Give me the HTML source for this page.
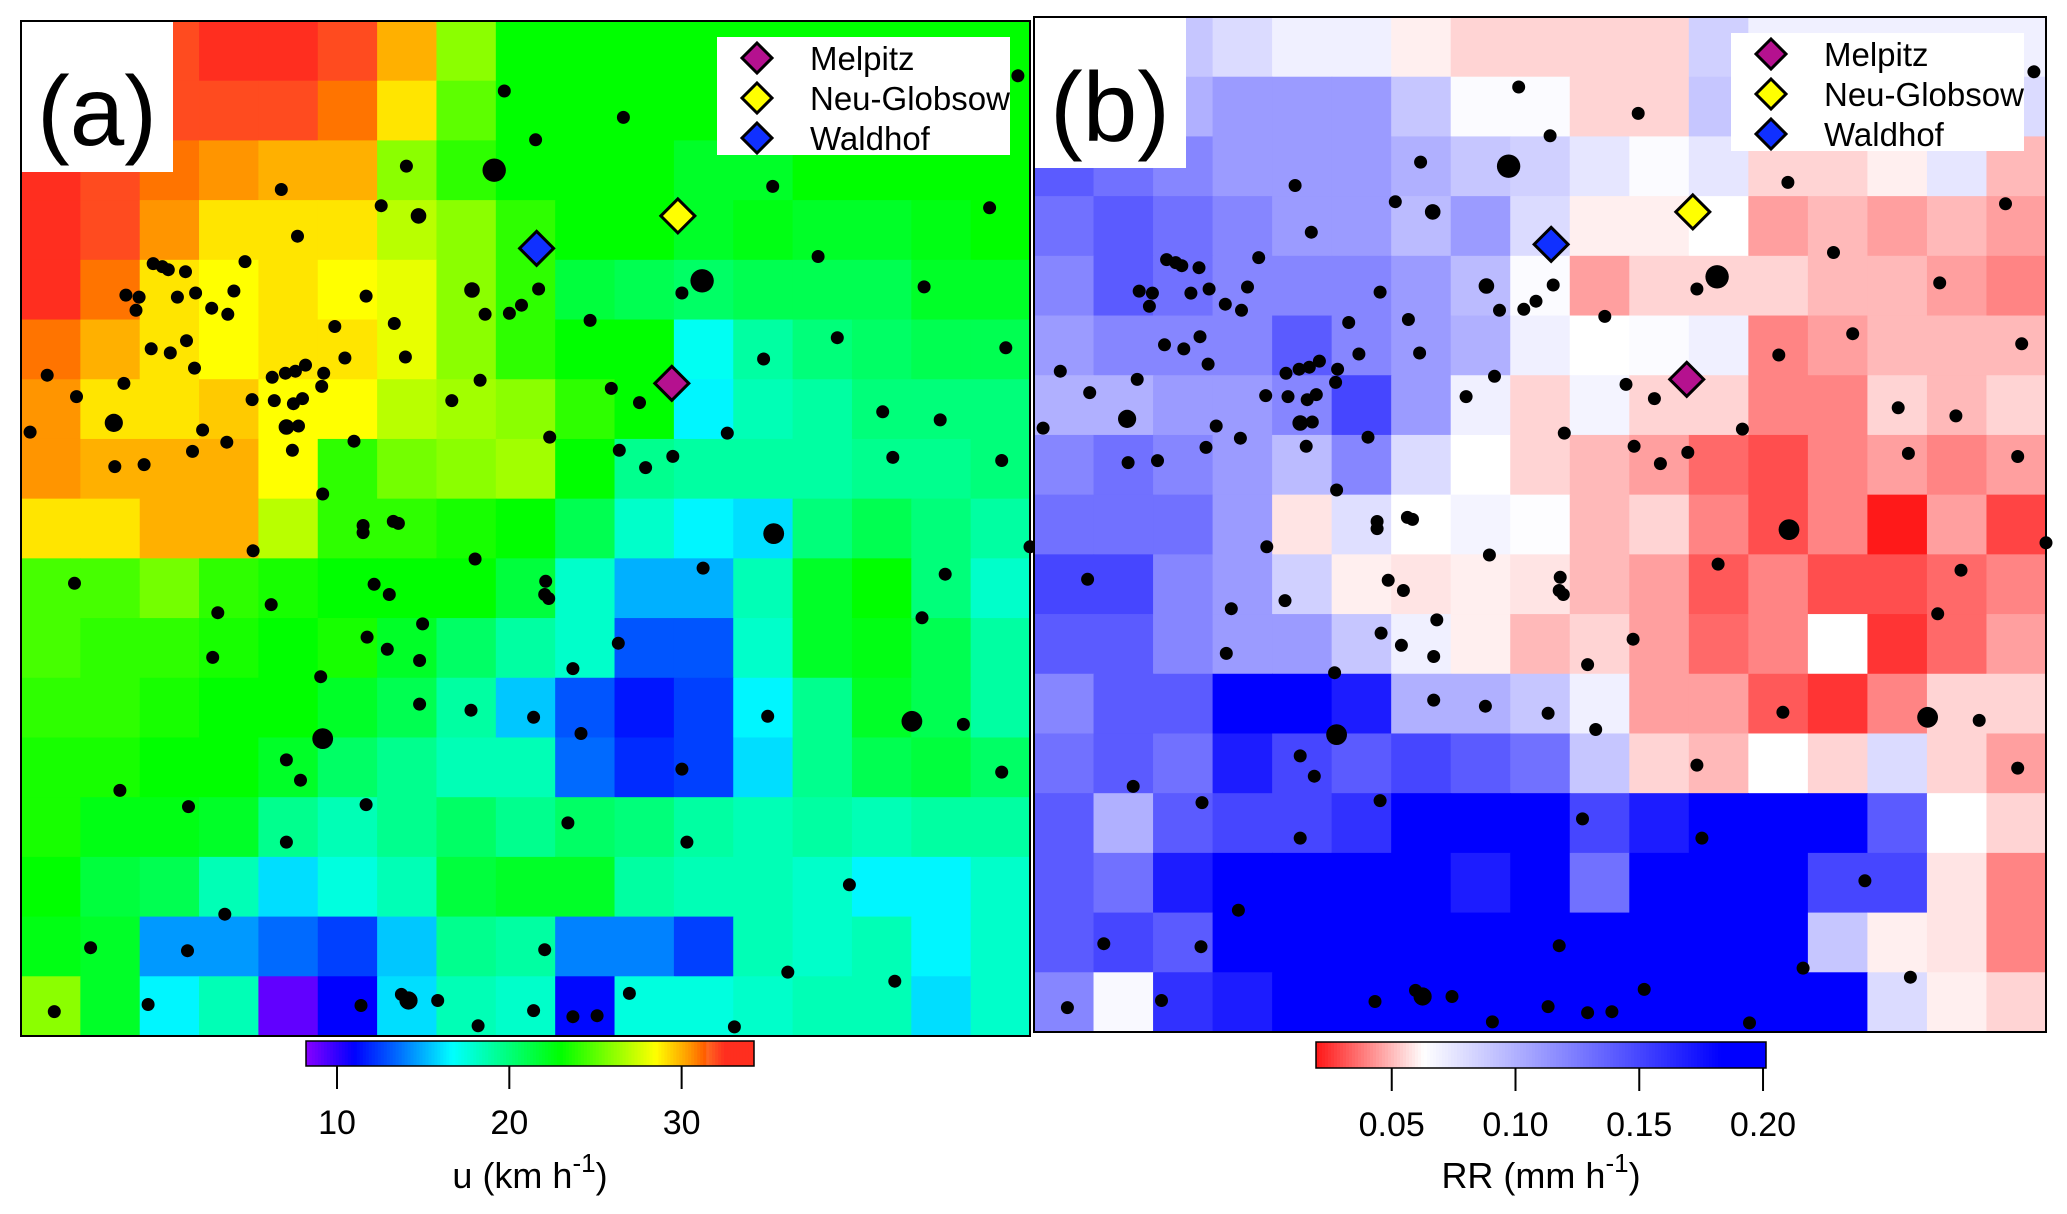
<!DOCTYPE html>
<html><head><meta charset="utf-8">
<style>
html,body{margin:0;padding:0;background:#fff;}
svg{display:block;font-family:"Liberation Sans","DejaVu Sans",sans-serif;}
</style></head>
<body>
<svg id="fig" width="2067" height="1214" viewBox="0 0 2067 1214" xmlns="http://www.w3.org/2000/svg">
<g id="pa"></g>
<g id="pb"></g>
</svg>
<script>
// Panel (a): wind speed u (km/h), 17x17 grid, rows top->bottom
const uRows = [
[32,32,32,33,33,32,30,26,23,23,23,23,23,23,23,23,23],
[32,32,32,32,32,31,29,25,23,23,23,23,23,23,23,23,23],
[33,32,31,30.5,30,30,26,24,23,23,23,22,22,23,23,23,23],
[32.5,32,30.5,29,29,29,27,26,24,23,23,22,22.5,22,22,22.5,23],
[32.5,31,29,28.5,29,28.5,28,26,24,21.5,21,20.5,21,21,21,22,22],
[31,30,29,28.5,29,29,28,26,24,23,23,17,19,20,20.5,21,21],
[30.5,29,29,29.5,28.5,28.5,27,26.5,26,24,23,16.5,18.5,19,20,20,20],
[30.5,30,30,30,28.5,24,25.5,26,26.5,23,19.5,19,19,19,19.5,19.5,20],
[29,29,30,30,27,24,24,23.5,23,21,18,16.5,16,20,21,20,19],
[24.5,24.5,25.5,24,23.5,23,23,23,21.5,18,15,15,18.5,22,23,20,18],
[24.5,24,24,23.5,23,23.5,22,20.5,19,18,13,13,18,22,22.5,21,19],
[24,24,23.5,23,23,22,21,19,15.5,13,11.5,12.5,16.5,19.5,22,21,19],
[23.5,23.5,23,23,22,20.5,19.5,18.5,18.5,13.5,12,12.5,16,19.5,21,21.5,20.5],
[23.5,22.5,22.5,22,19.5,18.5,19.5,20.5,19.5,20.5,20,19,18.5,19,18.5,19,19],
[23,21.5,21,18.5,16,17.5,18.5,21.5,22,22,19,18.5,18.5,18,16.5,16.5,18],
[22.5,22,14.5,14.5,13.5,12.5,15.5,19.5,19,14,14,12.5,18.5,18,18.5,16.5,18],
[26,22,16.5,18.5,9,11,16,18.5,18,11.2,17.5,17.5,18,18.5,18.5,16,18]
];
// Panel (b): rain rate RR (mm/h)
const rrRows = [
[0.10,0.10,0.09,0.08,0.07,0.07,0.06,0.055,0.055,0.055,0.055,0.085,0.07,0.07,0.07,0.07,0.07],
[0.12,0.11,0.10,0.11,0.11,0.11,0.09,0.065,0.065,0.055,0.055,0.09,0.075,0.07,0.07,0.075,0.08],
[0.14,0.13,0.12,0.11,0.11,0.11,0.10,0.09,0.085,0.075,0.065,0.075,0.055,0.055,0.06,0.075,0.05],
[0.13,0.14,0.13,0.12,0.11,0.11,0.095,0.11,0.08,0.06,0.06,0.063,0.045,0.05,0.045,0.05,0.045],
[0.12,0.14,0.13,0.12,0.12,0.12,0.11,0.095,0.065,0.045,0.055,0.055,0.055,0.05,0.05,0.045,0.04],
[0.11,0.12,0.12,0.12,0.14,0.12,0.11,0.10,0.07,0.063,0.065,0.07,0.04,0.045,0.05,0.05,0.05],
[0.10,0.10,0.11,0.11,0.12,0.15,0.11,0.07,0.055,0.068,0.055,0.055,0.04,0.04,0.055,0.05,0.055],
[0.12,0.13,0.12,0.11,0.095,0.12,0.08,0.063,0.055,0.05,0.045,0.035,0.03,0.04,0.045,0.04,0.045],
[0.13,0.13,0.13,0.11,0.058,0.078,0.063,0.068,0.064,0.05,0.055,0.04,0.03,0.04,0.02,0.045,0.028],
[0.15,0.15,0.12,0.11,0.085,0.06,0.058,0.06,0.058,0.05,0.045,0.032,0.04,0.03,0.03,0.035,0.04],
[0.14,0.14,0.12,0.11,0.11,0.09,0.07,0.06,0.05,0.055,0.045,0.035,0.04,0.063,0.025,0.035,0.045],
[0.12,0.14,0.14,0.19,0.19,0.17,0.10,0.10,0.09,0.07,0.045,0.045,0.032,0.025,0.04,0.055,0.055],
[0.13,0.14,0.13,0.17,0.15,0.14,0.15,0.14,0.13,0.09,0.055,0.05,0.063,0.055,0.08,0.055,0.045],
[0.14,0.10,0.14,0.15,0.15,0.16,0.19,0.19,0.19,0.15,0.17,0.19,0.19,0.19,0.14,0.063,0.055],
[0.14,0.13,0.17,0.19,0.19,0.19,0.19,0.17,0.19,0.13,0.19,0.19,0.19,0.15,0.15,0.058,0.04],
[0.14,0.15,0.14,0.19,0.19,0.19,0.19,0.19,0.19,0.19,0.19,0.19,0.19,0.09,0.06,0.058,0.04],
[0.12,0.066,0.16,0.17,0.19,0.19,0.19,0.19,0.19,0.19,0.19,0.19,0.19,0.19,0.08,0.06,0.055]
];
const uTicks = [10,20,30];
const rrTicks = [0.05,0.10,0.15,0.20];
const rrTickLabels = ["0.05","0.10","0.15","0.20"];
const stationNames = ["Melpitz","Neu-Globsow","Waldhof"];
const stationColors = ["#b5118f","#ffff00","#1030ff"];
const stationFx = [0.645,0.651,0.511];
const stationFy = [0.357,0.192,0.224];
const cityFx = [0.469,0.382,0.258,0.357,0.394,0.479,0.597,0.510,0.745,0.960,0.988,0.790,0.675,0.655,0.895,0.564,0.447,0.496,0.484,0.460,0.513,0.342,0.370,0.381,0.321,0.311,0.274,0.222,0.211,0.205,0.189,0.173,0.155,0.164,0.172,0.148,0.129,0.140,0.131,0.146,0.163,0.104,0.117,0.114,0.026,0.055,0.102,0.092,0.009,0.093,0.122,0.170,0.204,0.180,0.229,0.249,0.262,0.272,0.282,0.300,0.298,0.251,0.270,0.279,0.263,0.275,0.269,0.330,0.427,0.455,0.585,0.613,0.524,0.700,0.736,0.809,0.976,0.854,0.911,0.593,0.619,0.646,0.864,0.972,0.299,0.339,0.369,0.374,0.339,0.230,0.450,0.746,1.0,0.676,0.916,0.053,0.350,0.365,0.520,0.519,0.523,0.248,0.195,0.343,0.363,0.398,0.395,0.893,0.592,0.547,0.190,0.297,0.395,0.446,0.508,0.555,0.740,0.883,0.934,0.299,0.263,0.655,0.972,0.098,0.277,0.166,0.342,0.542,0.660,0.263,0.821,0.202,0.165,0.069,0.519,0.760,0.866,0.033,0.126,0.337,0.377,0.384,0.413,0.453,0.508,0.547,0.571,0.603,0.707,0.758];
const cityFy = [0.147,0.143,0.166,0.182,0.192,0.069,0.095,0.117,0.163,0.184,0.054,0.232,0.256,0.268,0.262,0.295,0.265,0.280,0.288,0.289,0.264,0.271,0.298,0.331,0.332,0.301,0.212,0.237,0.266,0.289,0.283,0.268,0.272,0.315,0.342,0.327,0.323,0.242,0.239,0.245,0.247,0.270,0.272,0.285,0.349,0.370,0.357,0.396,0.405,0.439,0.437,0.424,0.415,0.403,0.373,0.351,0.347,0.345,0.339,0.347,0.360,0.374,0.377,0.372,0.400,0.399,0.423,0.414,0.374,0.354,0.362,0.376,0.410,0.406,0.333,0.312,0.322,0.385,0.393,0.423,0.440,0.429,0.430,0.433,0.466,0.497,0.493,0.495,0.504,0.522,0.530,0.505,0.518,0.539,0.545,0.554,0.555,0.565,0.552,0.565,0.569,0.575,0.583,0.607,0.619,0.594,0.630,0.588,0.613,0.638,0.627,0.646,0.673,0.679,0.686,0.702,0.685,0.690,0.693,0.707,0.728,0.737,0.740,0.758,0.748,0.774,0.772,0.790,0.809,0.809,0.851,0.880,0.916,0.913,0.915,0.937,0.946,0.976,0.969,0.970,0.959,0.965,0.965,0.990,0.975,0.981,0.980,0.958,0.991];
const citySize = [9,5,5,5,6,5,5,5,5,5,5,5,9,5,5,5,6,5,5,5,5,5,5,5,5,5,5,5,5,5,5,5,5,5,5,5,5,5,5,5,5,5,5,5,5,5,5,7,5,5,5,5,5,5,5,5,5,5,5,5,5,5,5,5,6,5,5,5,5,5,5,5,5,5,5,5,5,5,5,5,5,5,5,5,5,5,5,5,5,5,5,8,5,5,5,5,5,5,5,5,5,5,5,5,5,5,5,5,5,5,5,5,5,5,5,5,5,8,5,8,5,5,5,5,5,5,5,5,5,5,5,5,5,5,5,5,5,5,5,5,5,7,5,5,5,5,5,5,5];

const NS="http://www.w3.org/2000/svg";
function mk(tag, attrs, parent){const e=document.createElementNS(NS,tag);for(const k in attrs)e.setAttribute(k,attrs[k]);parent.appendChild(e);return e;}
function lerp(a,b,t){return a+(b-a)*t;}
function interpStops(v,stops){
  if(v<=stops[0][0])return stops[0][1];
  for(let i=1;i<stops.length;i++){if(v<=stops[i][0]){const t=(v-stops[i-1][0])/(stops[i][0]-stops[i-1][0]);return stops[i-1][1]+(stops[i][1]-stops[i-1][1])*t;}}
  return stops[stops.length-1][1];
}
const hueStops=[[8.2,272],[11,240],[13.5,215],[16.7,180],[23,120],[28.5,60],[30.5,35],[32.5,4]];
function uColor(v){return "hsl("+interpStops(v,hueStops).toFixed(1)+",100%,"+(v>31.5?"56%":"50%")+")";}
function rrColor(v){
  let r,g,b;
  if(v<=0.063){const t=Math.max(0,Math.min(1,(v-0.02)/0.043));r=255;g=Math.round(lerp(25,255,t));b=Math.round(lerp(25,255,t));}
  else{const t=Math.max(0,Math.min(1,(v-0.063)/0.12));r=Math.round(lerp(255,0,t));g=Math.round(lerp(255,0,t));b=255;}
  return "rgb("+r+","+g+","+b+")";
}
function drawPanel(g, X0, Y0, X1, Y1, rows, colorFn, label, legX, legY){
  const n=17, cw=(X1-X0)/n, ch=(Y1-Y0)/n;
  const cx = c=>X0+c*cw, cy = r=>Y0+r*ch;
  for(let r=0;r<rows.length;r++)for(let c=0;c<rows[r].length;c++){
    const el=mk("rect",{x:cx(c).toFixed(2),y:cy(r).toFixed(2),width:(cw+0.6).toFixed(2),height:(ch+0.6).toFixed(2),fill:colorFn(rows[r][c])},g);
    
    
  }
  const fx=f=>X0+f*(X1-X0), fy=f=>Y0+f*(Y1-Y0);
  for(let i=0;i<cityFx.length;i++){
    const d=mk("circle",{cx:fx(cityFx[i]).toFixed(1),cy:fy(cityFy[i]).toFixed(1),r:(citySize[i]*1.3).toFixed(1),fill:"#000"},g);
    
    
  }
  for(let i=0;i<stationNames.length;i++){
    const x=fx(stationFx[i]), y=fy(stationFy[i]), s=17;
    const p=mk("polygon",{points:`${x},${y-s} ${x+s},${y} ${x},${y+s} ${x-s},${y}`,fill:stationColors[i],stroke:"#000","stroke-width":3},g);
    
    
  }
  const lb=mk("rect",{x:X0,y:Y0,width:152,height:151,fill:"#fff"},g);
  
  
  const lt=mk("text",{x:X0+76,y:Y0+124,"font-size":98,"text-anchor":"middle",fill:"#000"},g);
  lt.textContent=label;
  
  
  const lg=mk("g",{},g);
  
  
  mk("rect",{x:legX,y:legY,width:293,height:118,fill:"#fff"},lg);
  for(let i=0;i<3;i++){
    const yy=legY+21+i*40, xx=legX+40, s=15;
    const e=mk("g",{},lg);
    
    
    mk("polygon",{points:`${xx},${yy-s} ${xx+s},${yy} ${xx},${yy+s} ${xx-s},${yy}`,fill:stationColors[i],stroke:"#000","stroke-width":3},e);
    const t=mk("text",{x:legX+93,y:yy+12,"font-size":33,fill:"#000"},e);
    t.textContent=stationNames[i];
  }
  mk("rect",{x:X0,y:Y0,width:X1-X0,height:Y1-Y0,fill:"none",stroke:"#000","stroke-width":2},g);
}
const pa=document.getElementById("pa"), pb=document.getElementById("pb");
drawPanel(pa,21,21,1030,1036,uRows,uColor,"(a)",717,37);
drawPanel(pb,1034,17,2046,1032,rrRows,rrColor,"(b)",1731,33);

function colorbar(parent, x0,x1,y0,y1, vmin,vmax, colorFn, ticks, tickLabels, title, name){
  const g=mk("g",{},parent);
  
  
  const N=150, w=(x1-x0)/N;
  for(let i=0;i<N;i++){const v=vmin+(vmax-vmin)*(i+0.5)/N;mk("rect",{x:(x0+i*w).toFixed(2),y:y0,width:(w+0.5).toFixed(2),height:y1-y0,fill:colorFn(v)},g);}
  mk("rect",{x:x0,y:y0,width:x1-x0,height:y1-y0,fill:"none",stroke:"#000","stroke-width":1.5},g);
  const sx=v=>x0+(v-vmin)/(vmax-vmin)*(x1-x0);
  ticks.forEach((t,i)=>{
    const x=sx(t);
    mk("line",{x1:x,y1:y1,x2:x,y2:y1+23,stroke:"#000","stroke-width":2},g);
    const tx=mk("text",{x:x,y:y1+68,"font-size":34,"text-anchor":"middle",fill:"#000"},g);
    tx.textContent=tickLabels[i];
    
    
  });
  const tt=mk("text",{x:(x0+x1)/2,y:1188,"font-size":36,"text-anchor":"middle",fill:"#000"},g);
  tt.innerHTML=title;
  
  
}
const svg=document.getElementById("fig");
colorbar(svg,306,754,1041,1066,8.2,34.2,uColor,uTicks,uTicks.map(String),'u (km h<tspan dy="-16" font-size="26">-1</tspan><tspan dy="16">)</tspan>',"colorbar-wind-speed");
colorbar(svg,1316,1766,1042,1068,0.0194,0.2012,rrColor,rrTicks,rrTickLabels,'RR (mm h<tspan dy="-16" font-size="26">-1</tspan><tspan dy="16">)</tspan>',"colorbar-rain-rate");
</script>
</body></html>
